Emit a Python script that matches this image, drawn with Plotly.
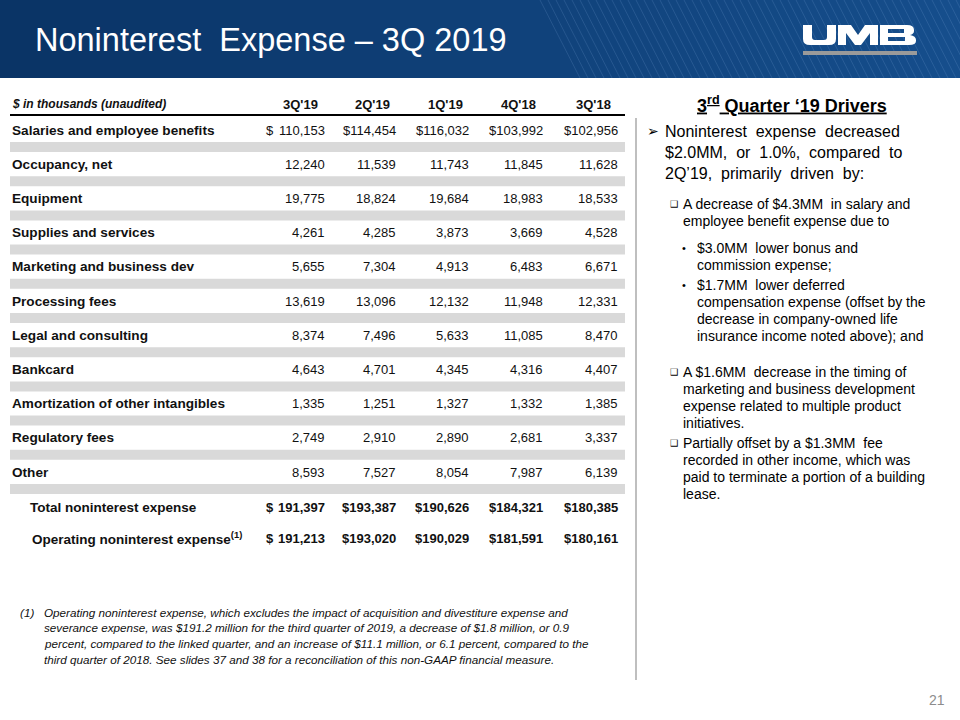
import plotly.graph_objects as go

# ---------------- data ----------------
quarters = ["3Q'19", "2Q'19", "1Q'19", "4Q'18", "3Q'18"]
categories = ["Salaries and employee benefits", "Occupancy, net", "Equipment",
              "Supplies and services", "Marketing and business dev", "Processing fees",
              "Legal and consulting", "Bankcard", "Amortization of other intangibles",
              "Regulatory fees", "Other"]
q3_19 = [110153, 12240, 19775, 4261, 5655, 13619, 8374, 4643, 1335, 2749, 8593]
q2_19 = [114454, 11539, 18824, 4285, 7304, 13096, 7496, 4701, 1251, 2910, 7527]
q1_19 = [116032, 11743, 19684, 3873, 4913, 12132, 5633, 4345, 1327, 2890, 8054]
q4_18 = [103992, 11845, 18983, 3669, 6483, 11948, 11085, 4316, 1332, 2681, 7987]
q3_18 = [102956, 11628, 18533, 4528, 6671, 12331, 8470, 4407, 1385, 3337, 6139]
total_labels = ["Total noninterest expense", "Operating noninterest expense<sup>(1)</sup>"]
total_nonint = [191397, 193387, 190626, 184321, 180385]
operating_nonint = [191213, 193020, 190029, 181591, 180161]

series = [q3_19, q2_19, q1_19, q4_18, q3_18]
totals = [total_nonint, operating_nonint]

# ---------------- layout constants ----------------
FONT = "Liberation Sans, Arial, sans-serif"
NARROW = "Liberation Sans Narrow, Arial Narrow, Liberation Sans, Arial, sans-serif"
TXT = "#111111"
col_right = [327, 398, 471, 545, 620]
head_center = [300, 372, 445, 518, 593]
dollar_x = 264
row_y0, row_dy = 130, 34.2
total_y = [507, 538]

fig = go.Figure()
shapes = []
ann = []

# header gradient band
n_strips = 48
c0 = (10, 52, 102)
c1 = (22, 78, 140)
for i in range(n_strips):
    t = i / (n_strips - 1)
    c = tuple(int(c0[k] + (c1[k] - c0[k]) * t) for k in range(3))
    shapes.append(dict(type="rect", xref="x", yref="y", x0=i * 20, x1=i * 20 + 21,
                       y0=0, y1=78, fillcolor="rgb(%d,%d,%d)" % c, line_width=0, layer="below"))
# faint diagonal texture on right side
for i in range(60):
    x0 = 540 + i * 8
    shapes.append(dict(type="line", xref="x", yref="y", x0=x0, y0=0, x1=x0 + 40, y1=78,
                       line=dict(color="rgba(140,180,230,0.18)", width=1), layer="below"))

# title
ann.append(dict(x=33, y=40, text="Noninterest\u00a0\u00a0Expense – 3Q 2019", xanchor="left", yanchor="middle",
                font=dict(family=FONT, size=32.5, color="white")))

# UMB logo
logo_paths = [
    "M803,25 L812,25 L812,37 Q812,40 815,40 L824,40 Q827,40 827,37 L827,25 L836,25 L836,39 Q836,45 829,45 L810,45 Q803,45 803,39 Z",
    "M838,25 L851,25 L858,35 L865,25 L878,25 L878,45 L870,45 L870,33 L861,45 L855,45 L846,33 L846,45 L838,45 Z",
    "M880,25 L907,25 Q914,25 914,30 L914,31 Q914,34 910,35 Q916,36 916,40 L916,41 Q916,45 909,45 L880,45 Z "
    "M888,29 L888,33 L904,33 L904,29 Z M888,37 L888,41 L905,41 L905,37 Z",
]
for p in logo_paths:
    shapes.append(dict(type="path", xref="x", yref="y", path=p, fillcolor="white",
                       line_width=0, fillrule="evenodd"))
shapes.append(dict(type="rect", xref="x", yref="y", x0=803, x1=917, y0=51, y1=55,
                   fillcolor="#9a9a9a", line_width=0))

# table header
ann.append(dict(x=10, y=104, text="<b><i>$ in thousands (unaudited)</i></b>", xanchor="left", yanchor="middle",
                font=dict(family=FONT, size=12, color=TXT)))
for q, cx in zip(quarters, head_center):
    ann.append(dict(x=cx, y=104, text="<b>%s</b>" % q, xanchor="center", yanchor="middle",
                    font=dict(family=FONT, size=13, color=TXT)))
shapes.append(dict(type="line", xref="x", yref="y", x0=10, x1=625, y0=115, y1=115,
                   line=dict(color="black", width=2)))

# rows
for i, cat in enumerate(categories):
    y = row_y0 + i * row_dy
    shapes.append(dict(type="rect", xref="x", yref="y", x0=10, x1=625, y0=y + 12, y1=y + 22,
                       fillcolor="#d9d9d9", line_width=0, layer="below"))
    ann.append(dict(x=10, y=y, text="<b>%s</b>" % cat, xanchor="left", yanchor="middle",
                    font=dict(family=FONT, size=13.6, color=TXT)))
    for j, s in enumerate(series):
        v = "{:,}".format(s[i])
        if i == 0 and j > 0:
            v = "$" + v
        ann.append(dict(x=col_right[j], y=y, text=v, xanchor="right", yanchor="middle",
                        font=dict(family=FONT, size=13, color=TXT)))
    if i == 0:
        ann.append(dict(x=dollar_x, y=y, text="$", xanchor="left", yanchor="middle",
                        font=dict(family=FONT, size=13, color=TXT)))

# totals
for k, (lab, vals) in enumerate(zip(total_labels, totals)):
    y = total_y[k]
    ann.append(dict(x=28 + 2 * k, y=y, text="<b>%s</b>" % lab, xanchor="left", yanchor="middle",
                    font=dict(family=FONT, size=13.5, color=TXT)))
    for j, v in enumerate(vals):
        t = "{:,}".format(v)
        if j > 0:
            t = "$" + t
        ann.append(dict(x=col_right[j], y=y, text="<b>%s</b>" % t, xanchor="right", yanchor="middle",
                        font=dict(family=FONT, size=13, color=TXT)))
    ann.append(dict(x=dollar_x, y=y, text="<b>$</b>", xanchor="left", yanchor="middle",
                    font=dict(family=FONT, size=13, color=TXT)))

# footnote
ann.append(dict(x=18, y=612, text="<i>(1)</i>", xanchor="left", yanchor="middle",
                font=dict(family=NARROW, size=11.7, color=TXT)))
foot = [
    "Operating noninterest expense, which excludes the impact of acquisition and divestiture expense and",
    "severance expense, was $191.2 million for the third quarter of 2019, a decrease of $1.8 million, or 0.9",
    "percent, compared to the linked quarter, and an increase of $11.1 million, or 6.1 percent, compared to the",
    "third quarter of 2018. See slides 37 and 38 for a reconciliation of this non-GAAP financial measure.",
]
for k, line in enumerate(foot):
    ann.append(dict(x=42, y=612 + k * 15.7, text="<i>%s</i>" % line, xanchor="left", yanchor="middle",
                    font=dict(family=NARROW, size=11.7, color=TXT)))

# divider
shapes.append(dict(type="line", xref="x", yref="y", x0=636, x1=636, y0=118, y1=680,
                   line=dict(color="#bfbfbf", width=2)))

# right panel
ann.append(dict(x=792, y=104, text="<b>3<sup>rd</sup> Quarter ‘19 Drivers</b>", xanchor="center", yanchor="middle",
                font=dict(family=FONT, size=18, color="black", lineposition="under")))
NB = "\u00a0\u00a0"
main_lines = ["Noninterest" + NB + "expense" + NB + "decreased",
              "$2.0MM," + NB + "or" + NB + "1.0%," + NB + "compared" + NB + "to",
              "2Q’19," + NB + "primarily" + NB + "driven" + NB + "by:"]
ann.append(dict(x=645, y=131, text="➢", xanchor="left", yanchor="middle",
                font=dict(family="DejaVu Sans", size=14, color="black")))
for k, line in enumerate(main_lines):
    ann.append(dict(x=663, y=131 + k * 21, text=line, xanchor="left", yanchor="middle",
                    font=dict(family=FONT, size=16, color="black")))

blocks = [
    ("❑", 204, ["A decrease of $4.3MM\u00a0 in salary and", "employee benefit expense due to"]),
    ("❑", 372, ["A $1.6MM\u00a0 decrease in the timing of", "marketing and business development",
                "expense related to multiple product", "initiatives."]),
    ("❑", 443, ["Partially offset by a $1.3MM\u00a0 fee", "recorded in other income, which was",
                "paid to terminate a portion of a building", "lease."]),
]
for sym, y0, lines in blocks:
    ann.append(dict(x=668, y=y0, text=sym, xanchor="left", yanchor="middle",
                    font=dict(family="DejaVu Sans", size=9, color="black")))
    for k, line in enumerate(lines):
        ann.append(dict(x=681, y=y0 + k * 17, text=line, xanchor="left", yanchor="middle",
                        font=dict(family=FONT, size=14, color="black")))

sub = [
    (248, ["$3.0MM\u00a0 lower bonus and", "commission expense;"]),
    (285, ["$1.7MM\u00a0 lower deferred", "compensation expense (offset by the",
           "decrease in company-owned life", "insurance income noted above); and"]),
]
for y0, lines in sub:
    ann.append(dict(x=680, y=y0, text="•", xanchor="left", yanchor="middle",
                    font=dict(family=FONT, size=11, color="black")))
    for k, line in enumerate(lines):
        ann.append(dict(x=695, y=y0 + k * 17, text=line, xanchor="left", yanchor="middle",
                        font=dict(family=FONT, size=14, color="black")))

# page number
ann.append(dict(x=947, y=700, text="21", xanchor="right", yanchor="middle",
                font=dict(family=FONT, size=14, color="#8c8c8c")))

for a in ann:
    a.setdefault("xref", "x")
    a.setdefault("yref", "y")
    a["showarrow"] = False

fig.update_layout(
    width=960, height=720, margin=dict(l=0, r=0, t=0, b=0),
    paper_bgcolor="white", plot_bgcolor="white",
    xaxis=dict(range=[0, 960], visible=False, fixedrange=True),
    yaxis=dict(range=[720, 0], visible=False, fixedrange=True),
    shapes=shapes, annotations=ann, showlegend=False,
)
fig.write_html("out.html", config={"displayModeBar": False},
               post_script="document.body.style.margin='0';document.body.style.overflow='hidden';")
